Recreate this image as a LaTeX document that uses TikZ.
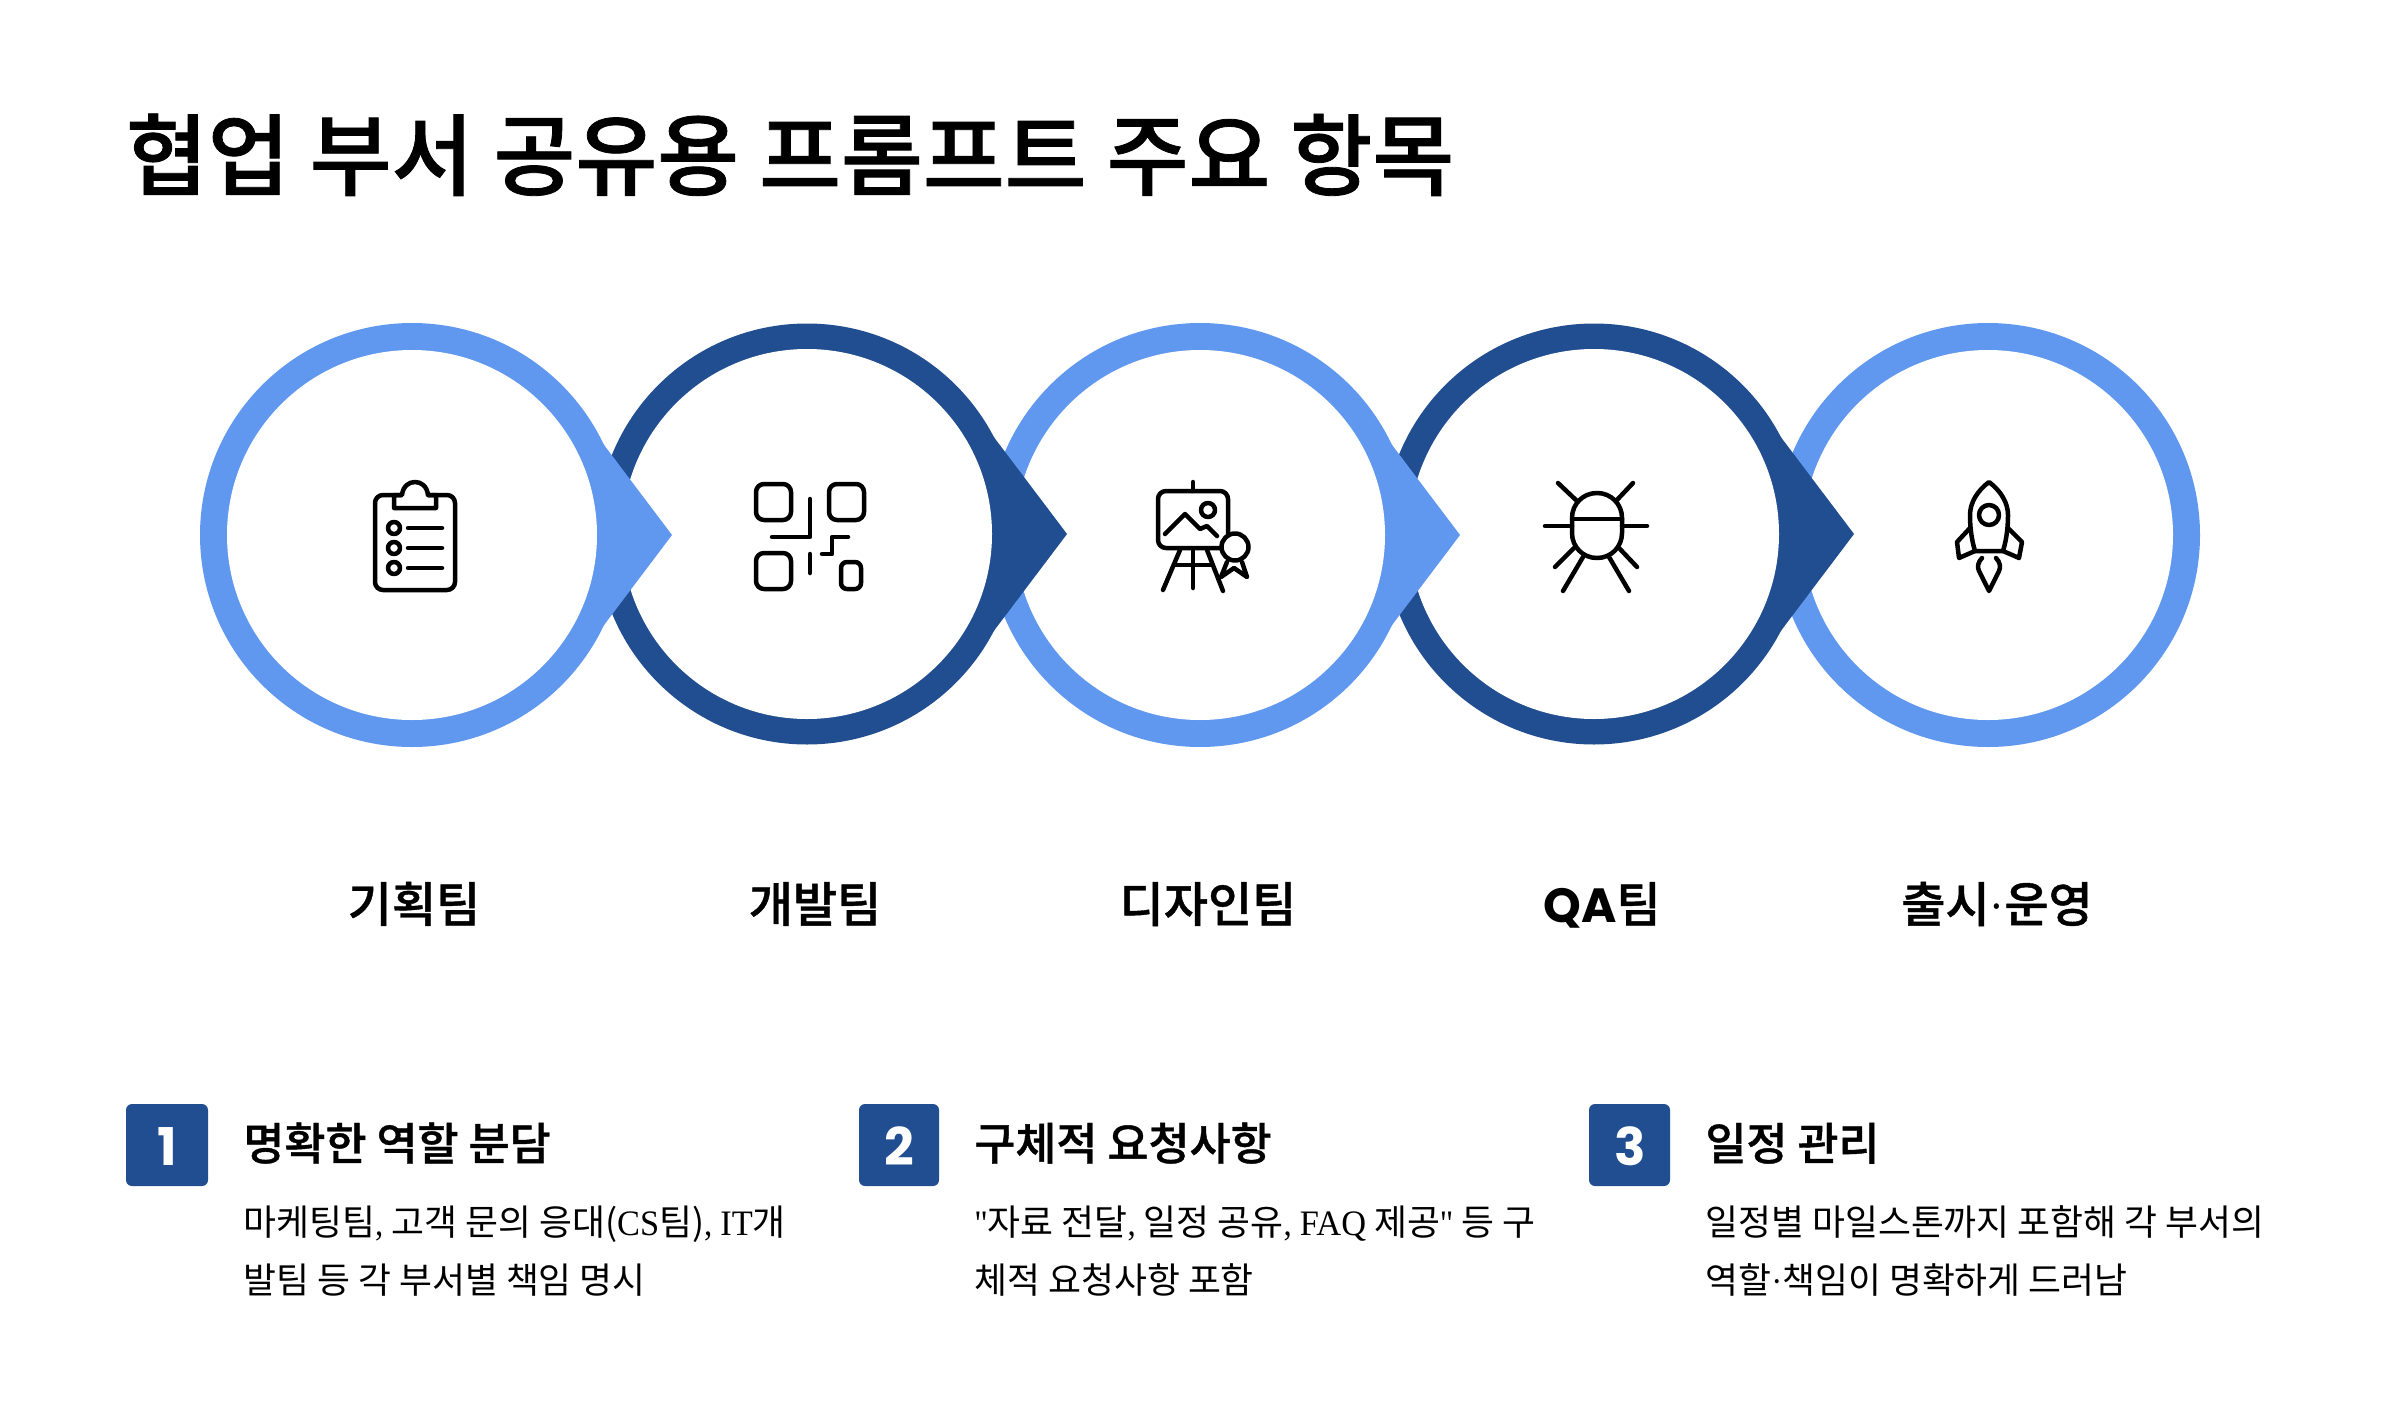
\documentclass[tikz,border=0pt]{standalone}
\usepackage{fontspec}
\setmainfont{Noto Sans CJK KR}
\newfontfamily\krmed[FakeBold=0.9]{Noto Sans CJK KR Medium}
\newfontfamily\latf[FakeStretch=0.92]{Liberation Serif}
\newfontfamily\latw[FakeStretch=0.96]{Liberation Serif}
\newfontfamily\popf{Poppins}
\definecolor{lightblue}{HTML}{6098F0}
\definecolor{darkblue}{HTML}{214E90}
\newcommand\Lat[1]{{\latf #1}}
\newcommand\Law[1]{{\latw #1}}
\newcommand\ringonly[4]{% cx cy color outerR
  \fill[#3] (#1,#2) circle[radius=#4];
  \fill[white] (#1,#2) circle[radius=185];
}
\newcommand\ringtip[4]{% cx cy color outerR; with tip
  \fill[#3] ({#1+183},{#2-102}) -- ({#1+260},#2) -- ({#1+183},{#2+102}) -- cycle;
  \ringonly{#1}{#2}{#3}{#4}
}
\tikzset{
  titletext/.style={anchor=base west,inner sep=0pt,font=\krmed\fontsize{44.5}{44.5}\selectfont},
  teamlabel/.style={anchor=base,inner sep=0pt,font=\krmed\fontsize{24}{24}\selectfont},
  numbox/.style={fill=darkblue,rounded corners=3,draw=none},
  numtext/.style={anchor=base,inner sep=0pt,text=white,font=\popf\bfseries\fontsize{26}{26}\selectfont},
  headtext/.style={anchor=base west,inner sep=0pt,font=\krmed\fontsize{22.3}{22.3}\selectfont},
  bodytext/.style={anchor=base west,inner sep=0pt,font=\fontsize{17.9}{17.9}\selectfont},
  iconline/.style={draw=black,line width=2.25pt,line cap=round,line join=round},
}
\begin{document}
\begin{tikzpicture}[x=0.5pt,y=-0.5pt]
\useasboundingbox[fill=white] (0,0) rectangle (2400,1408);
\node[titletext] (title) at (125.5,188.5) {협업 부서 공유용 프롬프트 주요 항목};

% rings, last first so each arrow lies over the next ring
\ringonly{1988}{535}{lightblue}{212}
\ringtip{1594}{534}{darkblue}{210.5}
\ringtip{1200}{535}{lightblue}{212}
\ringtip{807}{534}{darkblue}{210.5}
\ringtip{412}{535}{lightblue}{212}

% icon 1: clipboard
\draw[iconline] (401,495) -- (383,495) arc[start angle=-90,end angle=-180,radius=8] -- (375,582) arc[start angle=180,end angle=90,radius=8] -- (447,590) arc[start angle=90,end angle=0,radius=8] -- (455,503) arc[start angle=0,end angle=-90,radius=8] -- (428,495);
\draw[iconline] (394,495) -- (394,508) -- (436,508) -- (436,495) -- (428,495) .. controls (427,486) and (421,482) .. (415,482) .. controls (409,482) and (403,486) .. (402,495) -- cycle;
\foreach \yy in {528,548,568}{
  \draw[iconline] (394,\yy) circle[radius=6];
  \draw[iconline] (408,\yy) -- (442,\yy);
}

% icon 2: QR code
\draw[iconline,rounded corners=4] (756,484) rectangle (791,520);
\draw[iconline,rounded corners=4] (829,484) rectangle (864,520);
\draw[iconline,rounded corners=4] (756,553) rectangle (791,589);
\draw[iconline,rounded corners=3] (841,562) rectangle (861,589);
\draw[iconline] (810,499) -- (810,537) -- (772,537);
\draw[iconline] (848,537) -- (832,537) -- (832,554) -- (822,554);
\draw[iconline] (810,554) -- (810,573);

% icon 3: easel with badge
\draw[iconline] (1193,482) -- (1193,491);
\draw[iconline,rounded corners=4] (1158,491) rectangle (1228,548);
\draw[iconline] (1208,510) circle[radius=7];
\draw[iconline] (1165,534) -- (1185,514) -- (1200,529) -- (1207,526) -- (1217,536);
\draw[iconline] (1180,550) -- (1163,590);
\draw[iconline] (1193,550) -- (1193,588);
\draw[iconline] (1207,550) -- (1223,591);
\draw[iconline] (1175,565) -- (1212,565);
\draw[iconline] (1227,562) -- (1221,577) -- (1234,568) -- (1247,577) -- (1242,562);
\draw[iconline,fill=white] (1235,547) circle[radius=13.5];

% icon 4: bug
\draw[iconline] (1572,518) .. controls (1572,504) and (1583,493) .. (1597,493) .. controls (1611,493) and (1622,504) .. (1622,518) -- (1622,533) .. controls (1622,547) and (1611,558) .. (1597,558) .. controls (1583,558) and (1572,547) .. (1572,533) -- cycle;
\draw[iconline] (1572,519) -- (1622,519);
\draw[iconline] (1558,483) -- (1577,501);
\draw[iconline] (1633,483) -- (1616,501);
\draw[iconline] (1545,526) -- (1572,526);
\draw[iconline] (1622,526) -- (1647,526);
\draw[iconline] (1555,567) -- (1574,548);
\draw[iconline] (1637,567) -- (1619,548);
\draw[iconline] (1563,591) -- (1583,557);
\draw[iconline] (1629,591) -- (1609,557);

% icon 5: rocket
\draw[iconline] (1975,551) .. controls (1971,538) and (1970,525) .. (1970,515) .. controls (1970,503) and (1977,491) .. (1989,482) .. controls (2001,491) and (2008,503) .. (2008,515) .. controls (2008,525) and (2007,538) .. (2003,551) -- cycle;
\draw[iconline] (1989,515) circle[radius=10];
\draw[iconline] (1970,528) -- (1957,542) -- (1959,558) -- (1975,551);
\draw[iconline] (2008,528) -- (2022,542) -- (2019,558) -- (2003,551);
\draw[iconline] (1982,558) .. controls (1978,562) and (1977,567) .. (1979,571) -- (1989,591) -- (1999,571) .. controls (2001,567) and (2000,562) .. (1996,558);

% team labels
\node[teamlabel] (t1) at (414,922) {기획팀};
\node[teamlabel] (t2) at (815,922) {개발팀};
\node[teamlabel] (t3) at (1208,922) {디자인팀};
\node[teamlabel] (t4) at (1602,922) {{\popf\bfseries QA}팀};
\node[teamlabel] (t5) at (1997,922) {출시\Lat{·}운영};

% numbered items
\fill[numbox] (126,1104) rectangle (208,1186);
\node[numtext] (n1) at (167,1165) {1};
\node[headtext] (h1) at (243,1160) {명확한 역할 분담};
\node[bodytext] (b1a) at (243,1235) {마케팅팀\Lat{,} 고객 문의 응대(\Law{CS}팀)\Lat{,} \Law{IT}개};
\node[bodytext] (b1b) at (243,1293) {발팀 등 각 부서별 책임 명시};

\fill[numbox] (859,1104) rectangle (939,1186);
\node[numtext] (n2) at (899,1165) {2};
\node[headtext] (h2) at (974,1160) {구체적 요청사항};
\node[bodytext] (b2a) at (974,1235) {\Lat{"}자료 전달\Lat{,} 일정 공유\Lat{,} \Law{FAQ} 제공\Lat{"} 등 구};
\node[bodytext] (b2b) at (974,1293) {체적 요청사항 포함};

\fill[numbox] (1589,1104) rectangle (1670,1186);
\node[numtext] (n3) at (1630,1165) {3};
\node[headtext] (h3) at (1705,1160) {일정 관리};
\node[bodytext] (b3a) at (1705,1235) {일정별 마일스톤까지 포함해 각 부서의};
\node[bodytext] (b3b) at (1705,1293) {역할\Lat{·}책임이 명확하게 드러남};
\end{tikzpicture}
\end{document}
